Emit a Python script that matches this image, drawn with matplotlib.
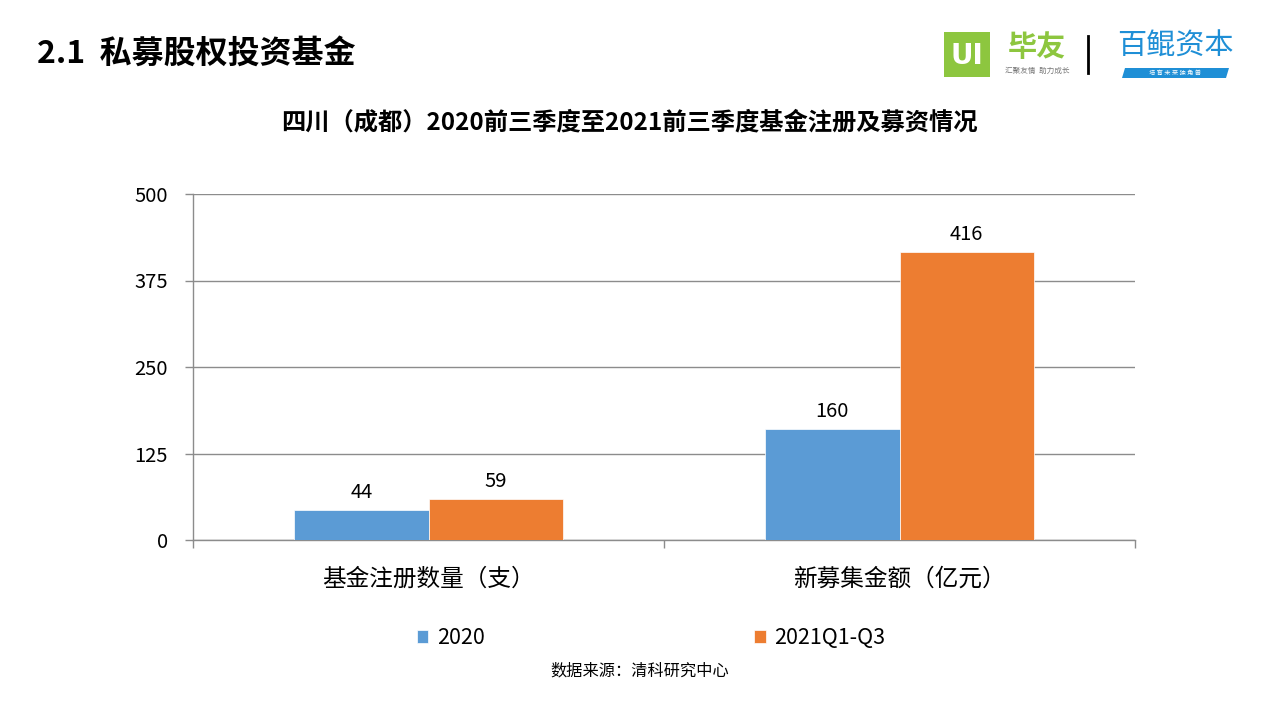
import matplotlib
matplotlib.use('Agg')
import matplotlib.pyplot as plt
from matplotlib.patches import Rectangle, Polygon
import numpy as np

plt.rcParams['font.family'] = ['Noto Sans CJK SC', 'DejaVu Sans']

categories = ['基金注册数量（支）', '新募集金额（亿元）']
series_names = ['2020', '2021Q1-Q3']
values_2020 = [44, 160]
values_2021 = [59, 416]
y_ticks = [0, 125, 250, 375, 500]

blue = '#5B9BD5'
orange = '#ED7D31'
grid_c = '#8C8C8C'

fig = plt.figure(figsize=(12.8, 7.2), dpi=100)
fig.patch.set_facecolor('white')

# page title
fig.text(37 / 1280, 1 - 54 / 720, '2.1  私募股权投资基金', fontsize=23, fontweight='bold',
         ha='left', va='center', color='black')

# logos (top right)
fig.patches.append(Rectangle((944 / 1280, 1 - 77 / 720), 46 / 1280, 45 / 720,
                             transform=fig.transFigure, facecolor='#8DC63F', edgecolor='none'))
fig.text(967 / 1280, 1 - 56 / 720, 'UI', fontsize=20, fontweight='bold', color='white',
         ha='center', va='center', family='DejaVu Sans')
fig.text(1037 / 1280, 1 - 47 / 720, '毕友', fontsize=21, fontweight='bold', color='#8DC63F',
         ha='center', va='center')
fig.text(1037 / 1280, 1 - 71 / 720, '汇聚友情  助力成长', fontsize=5.5, color='#777777',
         ha='center', va='center')
fig.lines.append(plt.Line2D([1088 / 1280, 1088 / 1280], [1 - 36 / 720, 1 - 73 / 720],
                            transform=fig.transFigure, color='black', lw=2))
fig.text(1175 / 1280, 1 - 47 / 720, '百鲲资本', fontsize=21, color='#1F8FD6',
         ha='center', va='center', style='italic')
fig.patches.append(Polygon([[1122 / 1280, 1 - 78 / 720], [1226 / 1280, 1 - 78 / 720],
                            [1229 / 1280, 1 - 68 / 720], [1125 / 1280, 1 - 68 / 720]],
                           closed=True, transform=fig.transFigure,
                           facecolor='#1F8FD6', edgecolor='none'))
fig.text(1175 / 1280, 1 - 73 / 720, '培 育 未 来 独 角 兽', fontsize=4.5, color='white',
         ha='center', va='center')

# chart title
fig.text(629 / 1280, 1 - 123 / 720, '四川（成都）2020前三季度至2021前三季度基金注册及募资情况',
         fontsize=17.5, fontweight='bold', ha='center', va='center', color='black')

ax = fig.add_axes([193 / 1280, 1 - 540 / 720, 942 / 1280, 346 / 720])
x = np.arange(len(categories))
w = 0.285
b1 = ax.bar(x - w / 2, values_2020, w, color=blue, edgecolor='white', linewidth=0.5,
            label=series_names[0], zorder=3)
b2 = ax.bar(x + w / 2, values_2021, w, color=orange, edgecolor='white', linewidth=0.5,
            label=series_names[1], zorder=3)

for bars, vals in ((b1, values_2020), (b2, values_2021)):
    for r, v in zip(bars, vals):
        ax.annotate(str(v), (r.get_x() + r.get_width() / 2, v), xytext=(0, 5),
                    textcoords='offset points', ha='center', va='bottom', fontsize=14.5)

ax.set_xlim(-0.5, 1.5)
ax.set_ylim(0, 500)
ax.set_yticks(y_ticks)
ax.set_yticklabels([str(t) for t in y_ticks], fontsize=14.5)
ax.yaxis.grid(True, color=grid_c, linewidth=1, zorder=0)
ax.tick_params(axis='y', length=6, color=grid_c, pad=12, width=1)

ax.set_xticks([-0.5, 0.5, 1.5])
ax.set_xticklabels([])
ax.tick_params(axis='x', length=6, color=grid_c, width=1)
ax.set_xticks(x, minor=True)
ax.set_xticklabels(categories, minor=True, fontsize=17)
ax.tick_params(axis='x', which='minor', length=0, pad=20)

for s in ('top', 'right'):
    ax.spines[s].set_visible(False)
for s in ('left', 'bottom'):
    ax.spines[s].set_color(grid_c)
    ax.spines[s].set_linewidth(1)

fig.legend(handles=[b1, b2], labels=series_names, loc='center',
           bbox_to_anchor=(651 / 1280, 1 - 638 / 720), ncol=2, frameon=False,
           fontsize=15.5, handlelength=0.55, handleheight=0.55, handletextpad=0.4,
           columnspacing=12.5)

fig.text(640 / 1280, 1 - 671 / 720, '数据来源：清科研究中心', fontsize=11.7,
         ha='center', va='center', color='black')

fig.savefig('out.png', dpi=100, facecolor='white')
